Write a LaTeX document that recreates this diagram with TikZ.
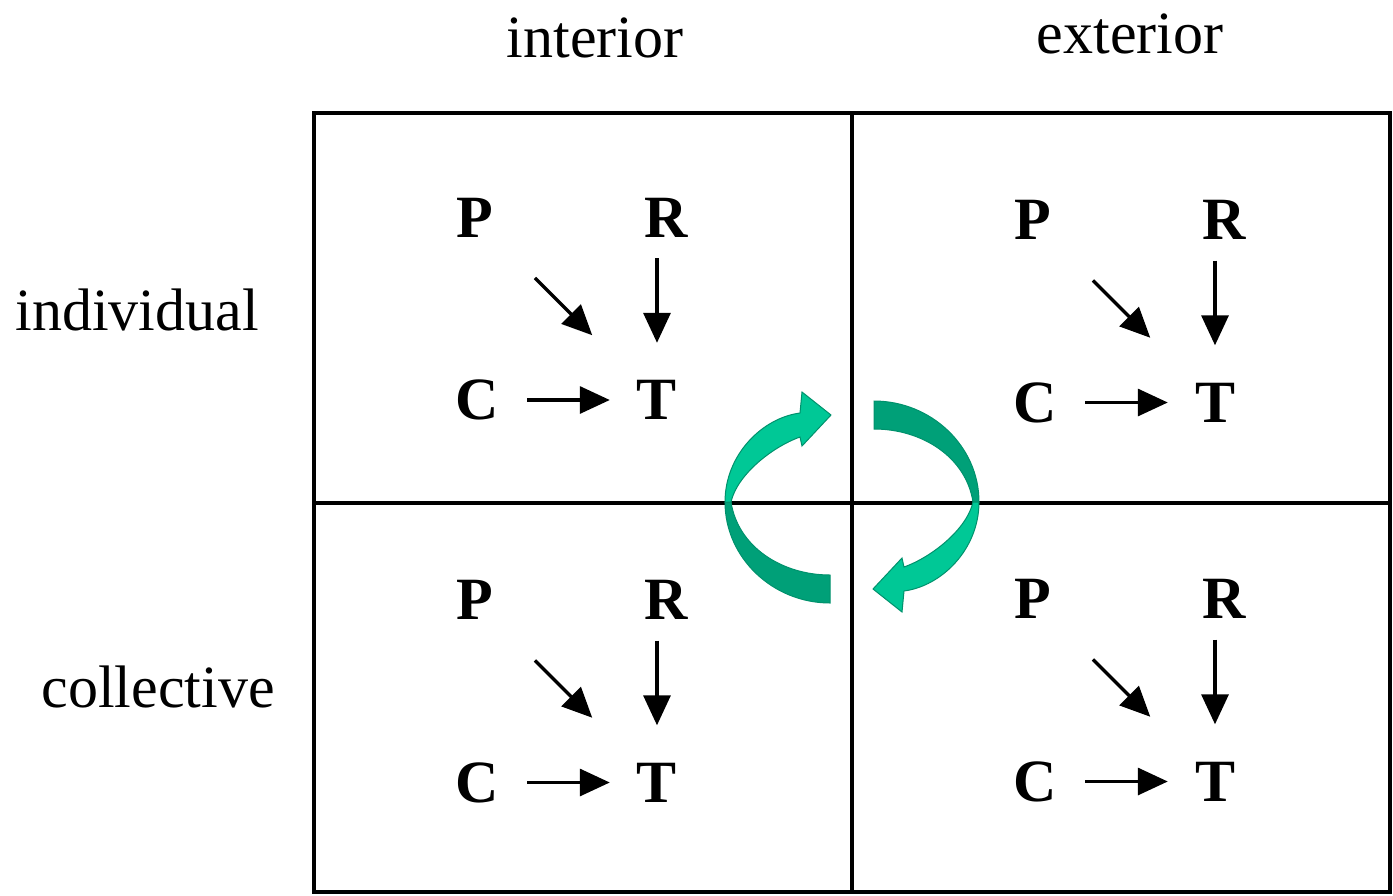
\documentclass[tikz,border=0pt]{standalone}
\usepackage{fontspec}
\setmainfont{Liberation Serif}
\usetikzlibrary{arrows.meta,calc}
\definecolor{cycfront}{RGB}{0,200,150}
\definecolor{cycback}{RGB}{0,160,120}
\definecolor{cycedge}{RGB}{0,145,108}

\begin{document}
\begin{tikzpicture}[
  x=1pt, y=-1pt,
  font=\fontsize{60}{72}\selectfont,
  letter/.style={inner sep=0pt, minimum width=40pt, minimum height=44pt, font=\fontsize{60}{72}\selectfont\bfseries},
  heading/.style={anchor=base, inner sep=0pt},
  arrow/.style={-{Triangle[length=30pt,width=27pt]}, line width=3.3pt},
  quadline/.style={line width=3.5pt},
  ribbon/.style={draw=cycedge, line width=1pt}
]
\useasboundingbox (0,0) rectangle (1393,895);

\node[heading] (interior) at (595,57) {interior};
\node[heading] (exterior) at (1130,53) {exterior};
\node[heading] (individual) at (137,330) {individual};
\node[heading] (collective) at (158,707) {collective};

\draw[quadline] (314,113) rectangle (1390,892);
\draw[quadline] (852,113) -- (852,892);
\draw[quadline] (314,503) -- (1390,503);

\foreach \cx/\cy/\q in {474.5/217.5/a, 1032.5/220/b, 474.5/600/c, 1032.5/599/d} {
  \node[letter] (P\q) at (\cx,\cy) {P};
  \node[letter] (R\q) at (\cx+191.5,\cy) {R};
  \node[letter] (C\q) at (\cx+2.5,\cy+182.5) {C};
  \node[letter] (T\q) at (\cx+182.5,\cy+182.5) {T};
  \draw[arrow, shorten <=57pt, shorten >=63pt] (P\q) -- (T\q);
  \draw[arrow, shorten <=18.5pt, shorten >=35pt] (T\q.north |- R\q.south) -- (T\q.north);
  \draw[arrow, shorten <=28.5pt, shorten >=27pt] (C\q) -- (T\q);
}

\foreach \ang in {0,180} {
  \begin{scope}[rotate around={\ang:(852,502)}]
    \filldraw[ribbon, fill=cycback] (830,603) .. controls (773,603) and (725,558) .. (725,502)
      -- (731,502) .. controls (738,547) and (782,575) .. (830,575) -- cycle;
    \filldraw[ribbon, fill=cycfront] (725,502) .. controls (725,455) and (762,418) .. (800,413)
      -- (802,392) -- (831,415) -- (802,446) -- (800,437)
      .. controls (772,447) and (737,475) .. (731,502) -- cycle;
  \end{scope}
}

\end{tikzpicture}
\end{document}
